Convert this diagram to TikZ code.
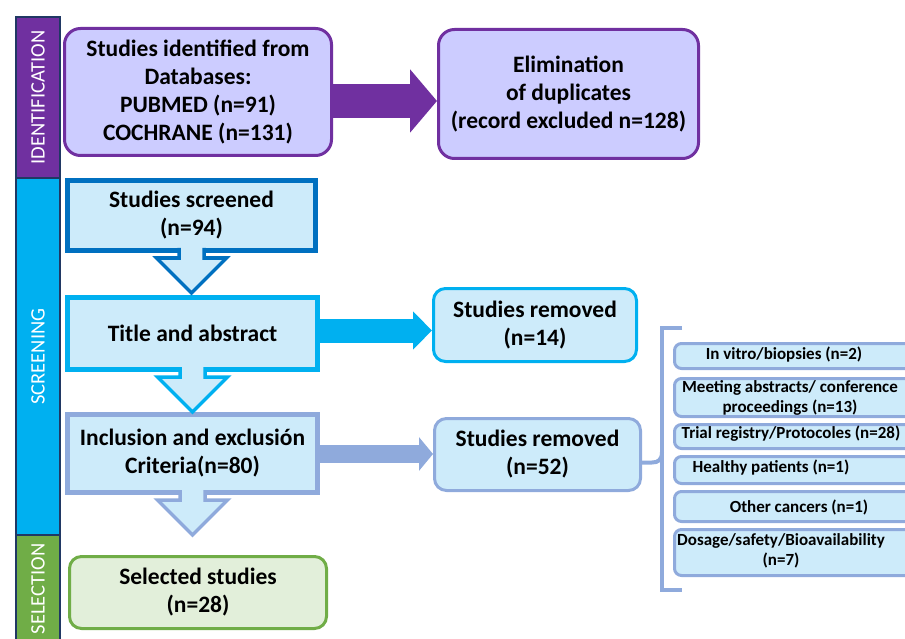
\documentclass[tikz,border=0pt]{standalone}
\usepackage{fontspec}
\setmainfont{Carlito}
\usetikzlibrary{arrows.meta}

\definecolor{purp}{HTML}{7030A0}
\definecolor{lav}{HTML}{CCCCFF}
\definecolor{dblue}{HTML}{0070C0}
\definecolor{cyan}{HTML}{00B0F0}
\definecolor{steel}{HTML}{8FAADC}
\definecolor{lblue}{HTML}{CDEBFA}
\definecolor{green}{HTML}{70AD47}
\definecolor{lgreen}{HTML}{E2EFDA}
\definecolor{navy}{HTML}{203864}

\begin{document}
\begin{tikzpicture}[x=1pt, y=-1pt,
        box/.style={draw, line width=3pt, align=center, inner sep=0pt,
            font=\fontsize{23.5}{28}\selectfont\bfseries},
        purplebox/.style={box, draw=purp, fill=lav, rounded corners=16pt},
        screenbox/.style={box, fill=lblue, line width=5pt},
        removedbox/.style={box, fill=lblue, rounded corners=12pt},
        reason/.style={draw=steel, fill=lblue, line width=3pt,
            rounded corners=7pt, minimum width=247pt},
        reasontext/.style={align=center, inner sep=0pt,
            font=\fontsize{17}{19.5}\selectfont\bfseries},
        stage/.style={draw=navy, fill=#1, line width=2pt, text=white, rotate=90,
            minimum height=44pt, inner sep=0pt, font=\fontsize{20.5}{24}\selectfont},
    ] % pixel grid, y runs downwards
    \useasboundingbox (0,0) rectangle (905,639);
    \clip (0,0) rectangle (905,639);

    % side bar
    \node [stage=purp, minimum width=161pt] (idbar) at (38,97.5) {IDENTIFICATION};
    \node [stage=cyan, minimum width=357pt] (scrbar) at (38,356.5) {SCREENING};
    \node [stage=green, minimum width=108pt] (selbar) at (38,589) {SELECTION};

    % identification
    \node [purplebox, minimum width=267pt, minimum height=127pt] (ident) at (198,92)
        {Studies identified from\\Databases:\\PUBMED (n=91)\\COCHRANE (n=131)};
    \node [purplebox, minimum width=260pt, minimum height=129pt] (dup) at (568.5,94)
        {Elimination\\of duplicates\\(record excluded n=128)};
    \draw [purp, line width=34pt, -{Triangle[length=27pt, width=62pt]}]
        ([yshift=-9pt]ident.east) -- ([yshift=-9pt]ident.east -| dup.west);

    % screening
    \node [screenbox, draw=dblue, minimum width=248pt, minimum height=70pt] (screened) at (191.5,215.5)
        {Studies screened\\(n=94)};
    \node [screenbox, draw=cyan, minimum width=250pt, minimum height=72pt] (title) at (192.5,333.5)
        {Title and abstract};
    \node [screenbox, draw=steel, minimum width=250pt, minimum height=78pt] (incl) at (192.5,453.5)
        {Inclusion and exclusión\\Criteria(n=80)};
    \node [removedbox, draw=cyan, minimum width=203pt, minimum height=73pt] (rem14) at (535,325)
        {Studies removed\\(n=14)};
    \node [removedbox, draw=steel, minimum width=206pt, minimum height=72pt] (rem52) at (537.5,454.5)
        {Studies removed\\(n=52)};
    \draw [cyan, line width=24pt, -{Triangle[length=19pt, width=37pt]}]
        ([yshift=3pt]title.east) -- ([yshift=3pt]title.east -| rem14.west);
    \draw [steel, line width=18pt, -{Triangle[length=14pt, width=33pt]}]
        ([yshift=-0.5pt]incl.east) -- ([yshift=-0.5pt]incl.east -| rem52.west);

    % selection
    \node [box, draw=green, fill=lgreen, rounded corners=12pt,
        minimum width=257pt, minimum height=72pt] (selected) at (198,592.5)
        {Selected studies\\(n=28)};

    % hollow arrows going down
    \foreach \from/\col in {screened/dblue, title/cyan, incl/steel}
        \filldraw [draw=\col, fill=lblue, line width=3.5pt, line join=miter]
            ([xshift=-12.5pt, yshift=5pt]\from.south) -- ++(0,10) -- ++(-22.5,0)
            -- ++(35,35) -- ++(35,-35) -- ++(-22.5,0) -- ++(0,-10);

    % reasons for exclusion
    \node [reason, minimum height=25pt] (r1) at (798,356) {};
    \node [reason, minimum height=38pt] (r2) at (798,397.5) {};
    \node [reason, minimum height=24pt] (r3) at (798,436.5) {};
    \node [reason, minimum height=27pt] (r4) at (798,470) {};
    \node [reason, minimum height=30pt] (r5) at (798,506.5) {};
    \node [reason, minimum height=46pt] (r6) at (798,552.5) {};
    \node [reasontext] (t1) at (784,355) {In vitro/biopsies (n=2)};
    \node [reasontext] (t2) at (790,398) {Meeting abstracts/ conference\\proceedings (n=13)};
    \node [reasontext] (t3) at (791,434) {Trial registry/Protocoles (n=28)};
    \node [reasontext] (t4) at (771,468) {Healthy patients (n=1)};
    \node [reasontext] (t5) at (799,507) {Other cancers (n=1)};
    \node [reasontext] (t6) at (781,551) {Dosage/safety/Bioavailability\\(n=7)};

    % bracket
    \coordinate (brtop) at (682,328);
    \coordinate (brbot) at (682,590);
    \coordinate (brmid) at (662,452);
    \draw [steel, line width=4pt] (brtop) -- (brtop -| brmid) -- (brbot -| brmid) -- (brbot);
    \draw [steel, line width=4pt] ([yshift=-8pt]rem52.east) -- ++(10,0)
        .. controls +(6,0) and +(0,8) .. (brmid);
\end{tikzpicture}
\end{document}
